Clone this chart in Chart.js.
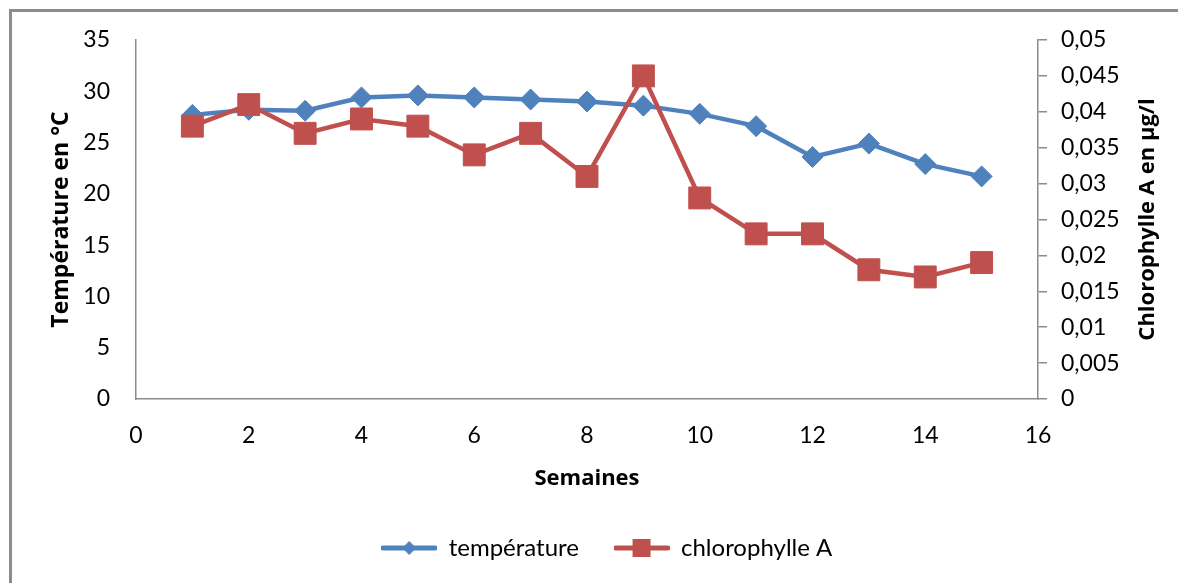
<!DOCTYPE html>
<html>
<head>
<meta charset="utf-8">
<script src="https://cdn.jsdelivr.net/npm/chart.js@4/dist/chart.umd.min.js"></script>
<style>
  html, body { margin: 0; padding: 0; background: #ffffff; }
  #wrap { position: relative; width: 1178px; height: 583px; overflow: hidden; }
  #frame { position: absolute; left: 9px; top: 9px; width: 1300px; height: 700px;
           border-left: 3px solid #8c8c8c; border-top: 3px solid #8c8c8c; box-sizing: border-box; }
  canvas { position: absolute; left: 0; top: 0; }
</style>
</head>
<body>
<div id="wrap">
  <div id="frame"></div>
  <canvas id="c" width="1178" height="583"></canvas>
</div>
<script>
// ---- data ----
const weeks = [1, 2, 3, 4, 5, 6, 7, 8, 9, 10, 11, 12, 13, 14, 15];
const temperature = [27.7, 28.2, 28.1, 29.4, 29.6, 29.4, 29.2, 29.0, 28.6, 27.8, 26.6, 23.6, 24.9, 22.9, 21.7];
const chlorophylle = [0.038, 0.041, 0.037, 0.039, 0.038, 0.034, 0.037, 0.031, 0.045, 0.028, 0.023, 0.023, 0.018, 0.017, 0.019];
const seriesNames = ['température', 'chlorophylle A'];
const xTitle = 'Semaines';
const yTitle = 'Température en °C';
const y1Title = 'Chlorophylle A en µg/l';

const BLUE = '#4F81BD';
const RED = '#C0504D';
const AXIS = '#8c8c8c';
const TITLE_FONT = { family: 'Open Sans', size: 22, weight: 'bold' };

function legendImg(color, kind) {
  const cv = document.createElement('canvas');
  cv.width = 56; cv.height = 24;
  const g = cv.getContext('2d');
  g.strokeStyle = color; g.lineWidth = 5; g.lineCap = 'round';
  g.beginPath(); g.moveTo(2, 12); g.lineTo(54, 12); g.stroke();
  g.fillStyle = color;
  g.beginPath();
  if (kind === 'diamond') {
    g.moveTo(28, 5); g.lineTo(35, 12); g.lineTo(28, 19); g.lineTo(21, 12); g.closePath();
  } else {
    g.rect(19, 3, 18, 18);
  }
  g.fill();
  return cv;
}
const legendImgs = [legendImg(BLUE, 'diamond'), legendImg(RED, 'square')];

// right-hand axis title reads bottom-to-top, like the left one
const rightTitlePlugin = {
  id: 'rightTitle',
  afterDraw(chart) {
    const s = chart.scales.y1;
    const ctx = chart.ctx;
    ctx.save();
    ctx.translate(1148, (s.top + s.bottom) / 2);
    ctx.rotate(-Math.PI / 2);
    ctx.font = 'bold ' + TITLE_FONT.size + 'px "' + TITLE_FONT.family + '"';
    ctx.fillStyle = '#000';
    ctx.textAlign = 'center';
    ctx.textBaseline = 'middle';
    ctx.fillText(y1Title, 0, 0);
    ctx.restore();
  }
};

const toPts = (vals) => vals.map((v, i) => ({ x: weeks[i], y: v }));

new Chart(document.getElementById('c'), {
  type: 'line',
  data: {
    datasets: [
      {
        label: seriesNames[0],
        data: toPts(temperature),
        yAxisID: 'y',
        borderColor: BLUE, backgroundColor: BLUE,
        borderWidth: 4.5,
        pointStyle: 'rectRot', pointRadius: 10.5, pointBorderWidth: 1,
        pointBackgroundColor: BLUE, pointBorderColor: BLUE,
        tension: 0, order: 2
      },
      {
        label: seriesNames[1],
        data: toPts(chlorophylle),
        yAxisID: 'y1',
        borderColor: RED, backgroundColor: RED,
        borderWidth: 4.5,
        pointStyle: 'rect', pointRadius: 15.5, pointBorderWidth: 1,
        pointBackgroundColor: RED, pointBorderColor: RED,
        tension: 0, order: 1
      }
    ]
  },
  plugins: [rightTitlePlugin],
  options: {
    responsive: false,
    animation: false,
    events: [],
    layout: { padding: { top: 40, left: 36, right: 0, bottom: 13 } },
    plugins: {
      tooltip: { enabled: false },
      title: { display: false },
      legend: {
        display: true,
        position: 'bottom',
        labels: {
          usePointStyle: true,
          pointStyleWidth: 55,
          padding: 35,
          color: '#000',
          font: { family: 'Lato', size: 24 },
          sort: (a, b) => a.datasetIndex - b.datasetIndex,
          generateLabels(chart) {
            const items = Chart.defaults.plugins.legend.labels.generateLabels(chart);
            items.forEach(it => { it.pointStyle = legendImgs[it.datasetIndex]; });
            return items;
          }
        }
      }
    },
    scales: {
      x: {
        type: 'linear',
        min: 0, max: 16,
        ticks: { stepSize: 2, color: '#000', font: { family: 'Lato', size: 23 }, padding: 23, maxRotation: 0 },
        grid: { display: false, drawTicks: false },
        border: { display: true, color: AXIS, width: 1.5 },
        title: { display: true, text: xTitle, color: '#000', font: TITLE_FONT, padding: { top: 0, bottom: 9 } },
        afterFit(s) { s.height = 102; }
      },
      y: {
        type: 'linear', position: 'left',
        min: 0, max: 35,
        ticks: { stepSize: 5, color: '#000', font: { family: 'Lato', size: 23 }, padding: 26 },
        grid: { display: false, drawTicks: false },
        border: { display: true, color: AXIS, width: 1.5 },
        title: { display: true, text: yTitle, color: '#000', font: { family: 'Open Sans', size: 23, weight: 'bold' }, padding: { top: 12, bottom: 0 } },
        afterFit(s) { s.width = 100; }
      },
      y1: {
        type: 'linear', position: 'right',
        min: 0, max: 0.05,
        ticks: {
          stepSize: 0.005, color: '#000', font: { family: 'Lato', size: 23 }, padding: 14,
          callback: (v) => String(Math.round(v * 1000) / 1000).replace('.', ',')
        },
        grid: { display: true, drawOnChartArea: false, drawTicks: true, tickLength: 9, color: AXIS, lineWidth: 1.5 },
        border: { display: true, color: AXIS, width: 1.5 },
        title: { display: false, text: y1Title },
        afterFit(s) { s.width = 140; }
      }
    }
  }
});
</script>
</body>
</html>
